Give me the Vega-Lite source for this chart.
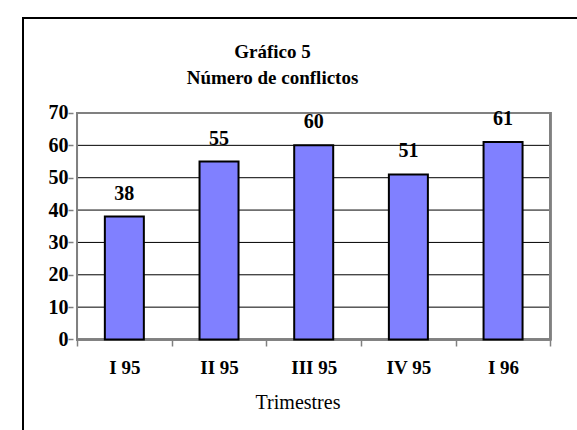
{
  "$schema": "https://vega.github.io/schema/vega-lite/v6.json",
  "autosize": {"type": "none"},
  "padding": {"left": 18, "top": 18, "right": 0, "bottom": 0},
  "width": 559,
  "height": 412,
  "background": "white",
  "config": {"view": {"stroke": null}},
  "title": {
    "text": ["Gráfico 5", "Número de conflictos"],
    "font": "Liberation Serif",
    "fontSize": 19,
    "fontWeight": "bold",
    "color": "black",
    "anchor": "middle",
    "frame": "group",
    "dx": -25,
    "offset": -71,
    "lineHeight": 26
  },
  "datasets": {
    "bars": [
      {"t": "I 95", "i": 1, "n": 38},
      {"t": "II 95", "i": 2, "n": 55},
      {"t": "III 95", "i": 3, "n": 60},
      {"t": "IV 95", "i": 4, "n": 51},
      {"t": "I 96", "i": 5, "n": 61}
    ],
    "grid": [{"g": 10}, {"g": 20}, {"g": 30}, {"g": 40}, {"g": 50}, {"g": 60}]
  },
  "layer": [
    {
      "data": {"name": "grid"},
      "mark": {"type": "rule", "color": "black", "strokeWidth": 1},
      "encoding": {
        "y": {"field": "g", "type": "quantitative", "scale": {"domain": [-27.97, 99.36], "nice": false, "zero": false}},
        "x": {"datum": 0.5, "type": "quantitative", "scale": {"domain": [-0.0705, 5.7282], "nice": false, "zero": false}},
        "x2": {"datum": 5.5}
      }
    },
    {
      "data": {"name": "bars"},
      "mark": {"type": "rect", "fill": null, "stroke": "#808080", "strokeWidth": 2},
      "encoding": {
        "x": {"datum": 0.5, "type": "quantitative", "scale": {"domain": [-0.0705, 5.7282], "nice": false, "zero": false}},
        "x2": {"datum": 5.5},
        "y": {"datum": 0, "type": "quantitative", "scale": {"domain": [-27.97, 99.36], "nice": false, "zero": false}},
        "y2": {"datum": 70}
      }
    },
    {
      "data": {"name": "bars"},
      "mark": {"type": "rect", "fill": null, "stroke": "black", "strokeWidth": 2},
      "encoding": {
        "x": {"datum": -0.0705, "type": "quantitative", "scale": {"domain": [-0.0705, 5.7282], "nice": false, "zero": false}},
        "x2": {"datum": 8},
        "y": {"datum": 99.36, "type": "quantitative", "scale": {"domain": [-27.97, 99.36], "nice": false, "zero": false}},
        "y2": {"datum": -60}
      }
    },
    {
      "data": {"name": "bars"},
      "mark": {"type": "bar", "orient": "vertical", "size": 39, "fill": "#8080FF", "stroke": "black", "strokeWidth": 2},
      "encoding": {
        "x": {
          "field": "i", "type": "quantitative",
          "scale": {"domain": [-0.0705, 5.7282], "nice": false, "zero": false},
          "axis": {
            "orient": "bottom",
            "offset": -90,
            "values": [0.5, 1, 1.5, 2, 2.5, 3, 3.5, 4, 4.5, 5, 5.5],
            "labelExpr": "datum.value % 1 === 0 ? ['', 'I 95', 'II 95', 'III 95', 'IV 95', 'I 96'][datum.value] : ''",
            "labelOverlap": false,
            "labelFlush": false,
            "domain": false,
            "grid": false,
            "tickSize": 6,
            "tickColor": "#808080",
            "tickWidth": 1.5,
            "tickOpacity": {"condition": {"test": "datum.value % 1 === 0", "value": 0}, "value": 1},
            "labelFont": "Liberation Serif",
            "labelFontSize": 19,
            "labelFontWeight": "bold",
            "labelColor": "black",
            "labelPadding": 12,
            "title": "Trimestres",
            "titleFont": "Liberation Serif",
            "titleFontSize": 20,
            "titleFontWeight": "normal",
            "titleColor": "black",
            "titlePadding": 15
          }
        },
        "y": {
          "field": "n", "type": "quantitative",
          "scale": {"domain": [-27.97, 99.36], "nice": false, "zero": false},
          "axis": {
            "orient": "left",
            "offset": -55,
            "values": [0, 10, 20, 30, 40, 50, 60, 70],
            "domain": false,
            "grid": false,
            "tickSize": 5,
            "tickColor": "#808080",
            "tickWidth": 1.5,
            "labelFont": "Liberation Serif",
            "labelFontSize": 20,
            "labelFontWeight": "bold",
            "labelColor": "black",
            "labelPadding": 0,
            "title": null
          }
        },
        "y2": {"datum": 0}
      }
    },
    {
      "data": {"name": "bars"},
      "mark": {"type": "text", "font": "Liberation Serif", "fontSize": 20, "fontWeight": "bold", "color": "black", "baseline": "middle", "dy": -23},
      "encoding": {
        "x": {"field": "i", "type": "quantitative", "scale": {"domain": [-0.0705, 5.7282], "nice": false, "zero": false}},
        "y": {"field": "n", "type": "quantitative", "scale": {"domain": [-27.97, 99.36], "nice": false, "zero": false}},
        "text": {"field": "n", "type": "quantitative"}
      }
    }
  ]
}
